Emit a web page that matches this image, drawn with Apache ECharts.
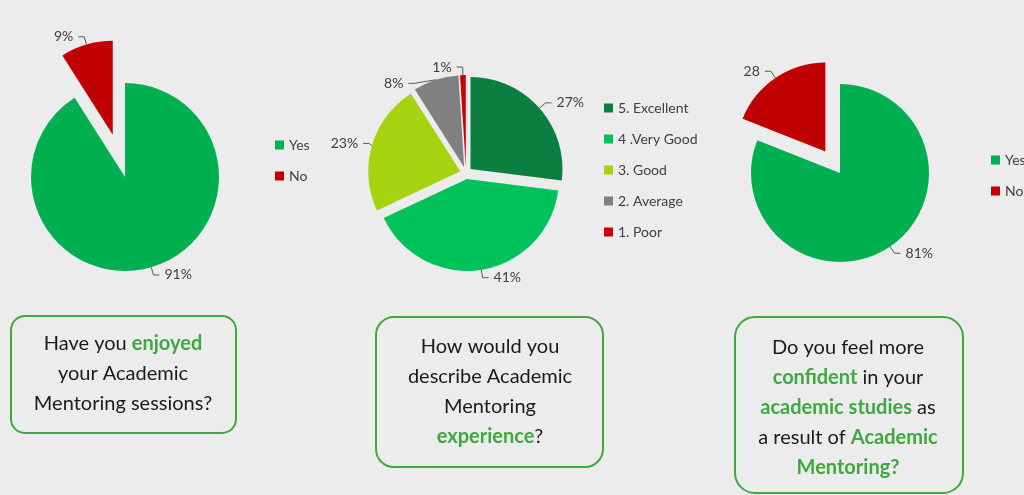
<!DOCTYPE html>
<html>
<head>
<meta charset="utf-8">
<script src="https://cdn.jsdelivr.net/npm/echarts@6/dist/echarts.min.js"></script>
<style>
html,body{margin:0;padding:0;background:#ececec;}
#c{width:1024px;height:495px;}
</style>
</head>
<body>
<div id="c"></div>
<script>
// ---- data ----
const q1Names = ['Yes', 'No'];
const q1Values = [91, 9];
const q1Labels = ['91%', '9%'];

const q2Names = ['5. Excellent', '4 .Very Good', '3. Good', '2. Average', '1. Poor'];
const q2Values = [27, 41, 23, 8, 1];
const q2Labels = ['27%', '41%', '23%', '8%', '1%'];

const q3Names = ['Yes', 'No'];
const q3Values = [81, 19];
const q3Labels = ['81%', '28'];

const ynColors = ['#00b050', '#c00000'];
const q2Colors = ['#0a7f3f', '#00c25a', '#a5d30f', '#808080', '#cc0000'];

const font = 'Lato, "Open Sans", sans-serif';

function mk(names, values, labels, colors, selectedFlags) {
  return names.map((n, i) => ({
    name: n, value: values[i], selected: selectedFlags[i],
    itemStyle: { color: colors[i] },
    label: { formatter: labels[i] }
  }));
}

const labelBase = { show: true, position: 'outside', color: '#404040', fontSize: 14, fontFamily: font };
const lineBase = { show: true, length: 8, length2: 6, lineStyle: { color: '#595959', width: 1 } };
const legendText = { color: '#404040', fontSize: 14, fontFamily: font };

const chart = echarts.init(document.getElementById('c'));
chart.setOption({
  backgroundColor: '#ececec',
  animation: false,
  legend: [
    { left: 270, top: 133, orient: 'vertical', icon: 'rect', itemWidth: 9, itemHeight: 9, itemGap: 17,
      textStyle: legendText, data: q1Names, selectedMode: false },
    { left: 599, top: 96, orient: 'vertical', icon: 'rect', itemWidth: 9, itemHeight: 9, itemGap: 17,
      textStyle: legendText, data: q2Names, selectedMode: false },
    { left: 986, top: 148, orient: 'vertical', icon: 'rect', itemWidth: 9, itemHeight: 9, itemGap: 17,
      textStyle: legendText, data: q3Names, selectedMode: false }
  ],
  series: [
    { type: 'pie', center: [125, 177], radius: 94, startAngle: 90, clockwise: true,
      selectedMode: 'multiple', selectedOffset: 44, emphasis: { disabled: true },
      label: labelBase, labelLine: lineBase,
      data: mk(q1Names, q1Values, q1Labels, ynColors, [false, true]) },
    { type: 'pie', center: [466, 173], radius: 92, startAngle: 90, clockwise: true,
      selectedMode: 'multiple', selectedOffset: 6, emphasis: { disabled: true },
      label: labelBase, labelLine: lineBase,
      data: mk(q2Names, q2Values, q2Labels, q2Colors, [true, true, true, true, true]) },
    { type: 'pie', center: [840, 173], radius: 89, startAngle: 90, clockwise: true,
      selectedMode: 'multiple', selectedOffset: 26, emphasis: { disabled: true },
      label: labelBase, labelLine: lineBase,
      data: mk(q3Names, q3Values, q3Labels, ynColors, [false, true]) }
  ],
  graphic: [
    { type: 'rect', shape: { x: 11, y: 316, width: 225, height: 117, r: 14 },
      style: { fill: 'none', stroke: '#3fa83f', lineWidth: 2 } },
    { type: 'rect', shape: { x: 376, y: 317, width: 227, height: 150, r: 18 },
      style: { fill: 'none', stroke: '#3fa83f', lineWidth: 2 } },
    { type: 'rect', shape: { x: 735, y: 317, width: 228, height: 176, r: 20 },
      style: { fill: 'none', stroke: '#3fa83f', lineWidth: 2 } },
    { type: 'text', x: 123, y: 329,
      style: { text: 'Have you {g|enjoyed}\nyour Academic\nMentoring sessions?', align: 'center',
        fill: '#1a1a1a', font: '20px ' + font, lineHeight: 30,
        rich: { g: { fill: '#3fa83f', fontWeight: 'bold', fontSize: 20, fontFamily: font, lineHeight: 30 } } } },
    { type: 'text', x: 490, y: 332,
      style: { text: 'How would you\ndescribe Academic\nMentoring\n{g|experience}?', align: 'center',
        fill: '#1a1a1a', font: '20px ' + font, lineHeight: 30,
        rich: { g: { fill: '#3fa83f', fontWeight: 'bold', fontSize: 20, fontFamily: font, lineHeight: 30 } } } },
    { type: 'text', x: 848, y: 333,
      style: { text: 'Do you feel more\n{g|confident} in your\n{g|academic studies} as\na result of {g|Academic}\n{g|Mentoring?}', align: 'center',
        fill: '#1a1a1a', font: '20px ' + font, lineHeight: 30,
        rich: { g: { fill: '#3fa83f', fontWeight: 'bold', fontSize: 20, fontFamily: font, lineHeight: 30 } } } }
  ]
});
</script>
</body>
</html>
